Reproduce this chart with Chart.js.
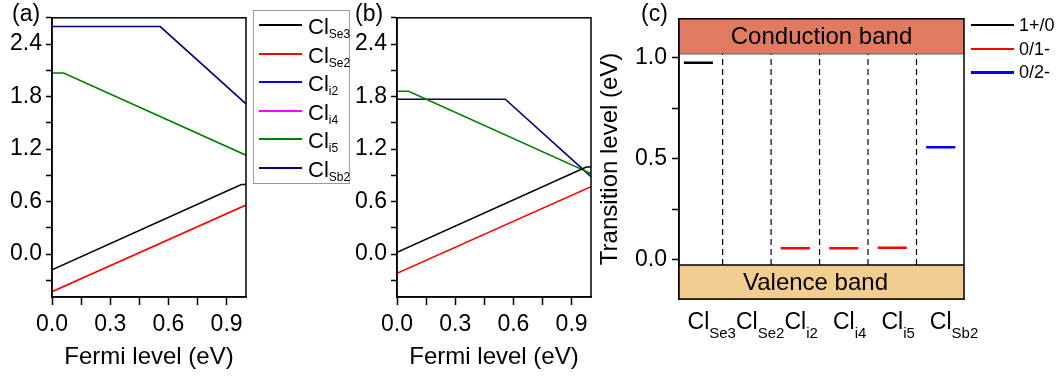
<!DOCTYPE html>
<html>
<head>
<meta charset="utf-8">
<script src="https://cdn.jsdelivr.net/npm/chart.js"></script>
<style>
    body { margin: 0; background: #fff; font-family: "Liberation Sans", Arial, sans-serif; }
    #wrap { position: relative; width: 1059px; height: 380px; overflow: hidden; background: #fff; }
    #wrap canvas { position: absolute; top: 0; }
    .plabel { position: absolute; top: 2px; font-size: 23px; line-height: 23px; color: #000; }
    #legendAB { position: absolute; left: 253px; top: 10px; width: 95px; height: 172px; border: 1px solid #999; background: #fff; }
    #legendC { position: absolute; left: 966px; top: 0; width: 93px; height: 90px; }
    .row { position: absolute; left: 0; height: 20px; width: 100%; }
    .swatch { position: absolute; left: 5px; top: 9px; width: 43px; height: 0; border-top: 2px solid #000; }
    .txt { position: absolute; left: 54px; top: 1px; font-size: 22px; line-height: 22px; white-space: nowrap; }
    .txt sub { font-size: 12px; vertical-align: baseline; position: relative; top: 4px; }
    .ctxt { position: absolute; left: 53px; top: 0; font-size: 18px; line-height: 20px; white-space: nowrap; }
</style>
</head>
<body>
<div id="wrap">
    <canvas id="chartA" width="250" height="380" style="left:0"></canvas>
    <canvas id="chartB" width="250" height="380" style="left:345px"></canvas>
    <canvas id="chartC" width="469" height="380" style="left:590px"></canvas>
    <div id="legendAB"></div>
    <div id="legendC"></div>
    <div class="plabel" style="left:12px">(a)</div>
    <div class="plabel" style="left:355px">(b)</div>
    <div class="plabel" style="left:641px">(c)</div>
</div>
<script>
// defects, shared by all three panels
const defects = [`Se3`, `Se2`, `i2`, `i4`, `i5`, `Sb2`];
const defectColors = [`#000000`, `#ff0000`, `#0000ff`, `#ff00ff`, `#008000`, `#000080`];

// (a) formation energy vs Fermi level, [Fermi level, energy] breakpoints
const aClSe3 = [[0, -0.18], [0.976, 0.796], [1.0, 0.796]];
const aClSe2 = [[0, -0.43], [1.0, 0.56]];
const aClI2 = [];
const aClI4 = [];
const aClI5 = [[0, 2.07], [0.06, 2.07], [1.0, 1.13]];
const aClSb2 = [[0, 2.6], [0.558, 2.6], [1.0, 1.716]];

// (b)
const bClSe3 = [[0, 0.02], [0.976, 0.996], [1.0, 0.996]];
const bClSe2 = [[0, -0.22], [1.0, 0.77]];
const bClI2 = [];
const bClI4 = [];
const bClI5 = [[0, 1.86], [0.06, 1.86], [1.0, 0.92]];
const bClSb2 = [[0, 1.77], [0.558, 1.77], [1.0, 0.886]];

// (c) transition levels per defect (eV above VBM)
const level1p0 = [0.976, null, null, null, null, null];
const level0m1 = [null, null, 0.058, 0.058, 0.06, null];
const level0m2 = [null, null, null, null, null, 0.558];
const levelNames = [`1+/0`, `0/1-`, `0/2-`];
const levelColors = [`#000000`, `#ff0000`, `#0000ff`];
const cbm = 1.02;
const vbm = -0.025;

// tick labels
const fermiTicks = [0, 0.3, 0.6, 0.9];
const energyTicks = [0, 0.6, 1.2, 1.8, 2.4];
const levelTicks = [0, 0.5, 1.0];

Chart.defaults.font.family = `"Liberation Sans", Arial, sans-serif`;
Chart.defaults.color = `#000`;

function toPoints(pairs) {
    return pairs.map(p => ({x: p[0], y: p[1]}));
}

function labelIf(list) {
    return v => list.some(t => Math.abs(t - v) < 1e-6) ? v.toFixed(1) : ``;
}

const framePlugin = {
    id: `frame`,
    afterDatasetsDraw(chart) {
        const {ctx, chartArea: a} = chart;
        ctx.save();
        ctx.strokeStyle = `#000`;
        ctx.lineWidth = 1.5;
        ctx.strokeRect(a.left, a.top, a.right - a.left, a.bottom - a.top);
        ctx.restore();
    }
};

function fermiChart(id, series) {
    new Chart(document.getElementById(id), {
        type: `line`,
        data: {
            datasets: series.map((pts, i) => ({
                label: `Cl` + defects[i],
                data: toPoints(pts),
                borderColor: defectColors[i],
                borderWidth: 1.6,
                pointRadius: 0,
                tension: 0
            }))
        },
        options: {
            responsive: false,
            animation: false,
            layout: {padding: {top: 10, right: 4, left: 0, bottom: 0}},
            plugins: {legend: {display: false}, tooltip: {enabled: false}},
            scales: {
                x: {
                    type: `linear`, min: 0, max: 1.0,
                    afterFit: s => { s.height = 83; },
                    border: {color: `#000`, width: 1.5},
                    grid: {drawOnChartArea: false, tickLength: 8, tickColor: `#000`, tickWidth: 1.5},
                    ticks: {stepSize: 0.15, includeBounds: false, autoSkip: false, maxRotation: 0, padding: 6,
                        font: {size: 23}, callback: labelIf(fermiTicks)},
                    title: {display: true, text: `Fermi level (eV)`, font: {size: 24}, padding: {top: 0, bottom: 8}}
                },
                y: {
                    type: `linear`, min: -0.49, max: 2.7,
                    afterFit: s => { s.width = 52; },
                    border: {color: `#000`, width: 1.5},
                    grid: {drawOnChartArea: false, tickLength: 6, tickColor: `#000`, tickWidth: 1.5},
                    ticks: {stepSize: 0.3, includeBounds: false, autoSkip: false, padding: 4,
                        font: {size: 23}, callback: labelIf(energyTicks)}
                }
            }
        },
        plugins: [framePlugin]
    });
}

fermiChart(`chartA`, [aClSe3, aClSe2, aClI2, aClI4, aClI5, aClSb2]);
fermiChart(`chartB`, [bClSe3, bClSe2, bClI2, bClI4, bClI5, bClSb2]);

// (c)
function levelDataset(values, color, name) {
    const pts = [];
    values.forEach((v, i) => {
        if (v !== null) {
            pts.push({x: i + 0.7, y: v}, {x: i + 1.3, y: v}, {x: i + 1.5, y: null});
        }
    });
    return {label: name, data: pts, borderColor: color, borderWidth: 2.5, pointRadius: 0, spanGaps: false};
}

const separators = defects.slice(1).map((d, i) => ({
    label: `sep` + i,
    data: [{x: i + 1.5, y: vbm}, {x: i + 1.5, y: cbm}],
    borderColor: `#000`,
    borderWidth: 1.2,
    borderDash: [6, 4],
    pointRadius: 0
}));

const bandPlugin = {
    id: `bands`,
    beforeDatasetsDraw(chart) {
        const {ctx, chartArea: a, scales: {y}} = chart;
        const yc = y.getPixelForValue(cbm);
        const yv = y.getPixelForValue(vbm);
        ctx.save();
        ctx.fillStyle = `#e07b62`;
        ctx.fillRect(a.left, a.top, a.right - a.left, yc - a.top);
        ctx.fillStyle = `#f2cd91`;
        ctx.fillRect(a.left, yv, a.right - a.left, a.bottom - yv);
        ctx.strokeStyle = `#555`;
        ctx.lineWidth = 1;
        ctx.beginPath(); ctx.moveTo(a.left, yc); ctx.lineTo(a.right, yc); ctx.stroke();
        ctx.strokeStyle = `#000`;
        ctx.lineWidth = 1.5;
        ctx.beginPath(); ctx.moveTo(a.left, yv); ctx.lineTo(a.right, yv); ctx.stroke();
        ctx.fillStyle = `#000`;
        ctx.font = `24px "Liberation Sans", Arial`;
        ctx.textAlign = `center`;
        ctx.textBaseline = `middle`;
        const cx = (a.left + a.right) / 2;
        ctx.fillText(`Conduction band`, cx, (a.top + yc) / 2 + 1);
        ctx.fillText(`Valence band`, cx - 6, (yv + a.bottom) / 2 + 1);
        ctx.restore();
    }
};

const defectLabelPlugin = {
    id: `defectLabels`,
    afterDraw(chart) {
        const {ctx, chartArea: a, scales: {x}} = chart;
        const base = a.bottom + 30;
        ctx.save();
        ctx.fillStyle = `#000`;
        ctx.textBaseline = `alphabetic`;
        ctx.textAlign = `left`;
        defects.forEach((d, i) => {
            const px = x.getPixelForValue(i + 1);
            ctx.font = `23px "Liberation Sans", Arial`;
            const w = ctx.measureText(`Cl`).width;
            ctx.fillText(`Cl`, px - w / 2, base);
            ctx.font = `15px "Liberation Sans", Arial`;
            ctx.fillText(d, px + w / 2, base + 9);
        });
        ctx.restore();
    }
};

new Chart(document.getElementById(`chartC`), {
    type: `line`,
    data: {
        datasets: [
            ...separators,
            levelDataset(level1p0, levelColors[0], levelNames[0]),
            levelDataset(level0m1, levelColors[1], levelNames[1]),
            levelDataset(level0m2, levelColors[2], levelNames[2])
        ]
    },
    options: {
        responsive: false,
        animation: false,
        layout: {padding: {top: 13, right: 95, left: 0, bottom: 0}},
        plugins: {legend: {display: false}, tooltip: {enabled: false}},
        scales: {
            x: {
                type: `linear`, min: 0.6, max: 6.48,
                afterFit: s => { s.height = 81; },
                border: {display: true, color: `#000`, width: 1.5},
                grid: {display: false},
                ticks: {display: false}
            },
            y: {
                type: `linear`, min: -0.194, max: 1.194,
                afterFit: s => { s.width = 89; },
                border: {color: `#000`, width: 1.5},
                grid: {drawOnChartArea: false, tickLength: 7, tickColor: `#000`, tickWidth: 1.5},
                ticks: {stepSize: 0.25, includeBounds: false, autoSkip: false, padding: 5,
                    font: {size: 23}, callback: labelIf(levelTicks)},
                title: {display: true, text: `Transition level (eV)`, font: {size: 24}, padding: {top: 6, bottom: 0}}
            }
        }
    },
    plugins: [bandPlugin, defectLabelPlugin, framePlugin]
});

// legends
const legendAB = document.getElementById(`legendAB`);
defects.forEach((d, i) => {
    legendAB.insertAdjacentHTML(`beforeend`, `
        <div class="row" style="top:${4 + i * 28.5}px">
            <span class="swatch" style="border-top-color:${defectColors[i]}"></span>
            <span class="txt">Cl<sub>${d}</sub></span>
        </div>`);
});

const legendC = document.getElementById(`legendC`);
levelNames.forEach((n, i) => {
    legendC.insertAdjacentHTML(`beforeend`, `
        <div class="row" style="top:${15 + i * 23.5}px">
            <span class="swatch" style="border-top-color:${levelColors[i]};border-top-width:${i === 2 ? 3 : 2}px"></span>
            <span class="ctxt">${n}</span>
        </div>`);
});
</script>
</body>
</html>
